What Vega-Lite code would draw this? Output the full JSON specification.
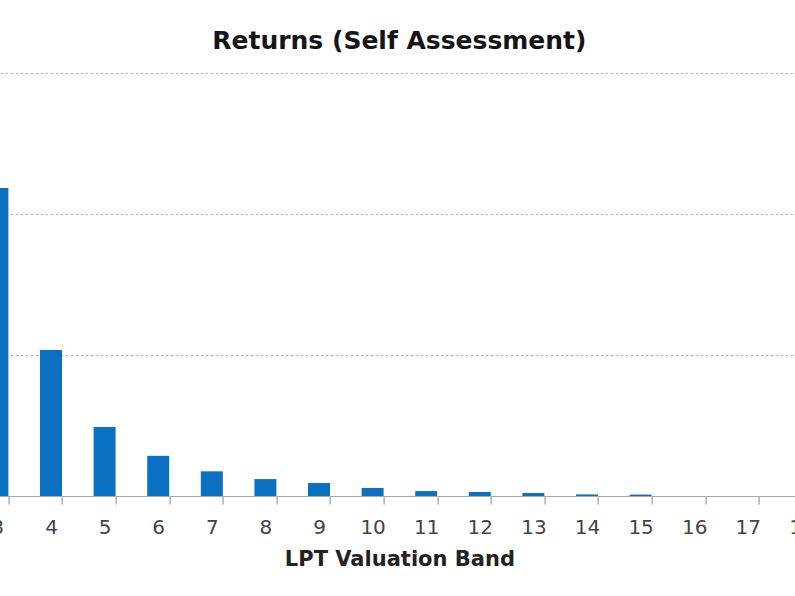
{
  "$schema": "https://vega.github.io/schema/vega-lite/v6.json",
  "width": 857.6,
  "height": 423,
  "autosize": {"type": "none"},
  "padding": {"left": -29.4, "top": 73, "right": -33.2, "bottom": 100},
  "background": "white",
  "title": {
    "text": "Returns (Self Assessment)",
    "font": "DejaVu Sans",
    "fontSize": 25,
    "fontWeight": "bold",
    "color": "#151515",
    "anchor": "middle",
    "offset": 19
  },
  "config": {"view": {"stroke": null}},
  "data": {
    "values": [
      {"band": "3", "returns": 43700},
      {"band": "4", "returns": 20700},
      {"band": "5", "returns": 9800},
      {"band": "6", "returns": 5700},
      {"band": "7", "returns": 3500},
      {"band": "8", "returns": 2400},
      {"band": "9", "returns": 1840},
      {"band": "10", "returns": 1140},
      {"band": "11", "returns": 700},
      {"band": "12", "returns": 560},
      {"band": "13", "returns": 420},
      {"band": "14", "returns": 220},
      {"band": "15", "returns": 200},
      {"band": "16", "returns": 0},
      {"band": "17", "returns": 0},
      {"band": "18", "returns": 0}
    ]
  },
  "mark": {"type": "bar", "color": "#0a70c2"},
  "encoding": {
    "x": {
      "field": "band",
      "type": "ordinal",
      "sort": null,
      "scale": {"paddingInner": 0.59, "paddingOuter": 0.295},
      "axis": {
        "title": "LPT Valuation Band",
        "titleFont": "DejaVu Sans",
        "titleFontSize": 21,
        "titleFontWeight": "bold",
        "titleColor": "#222222",
        "titlePadding": 11,
        "labelFont": "DejaVu Sans",
        "labelFontSize": 20,
        "labelColor": "#444444",
        "labelAngle": 0,
        "labelPadding": 13,
        "tickBand": "extent",
        "tickColor": "#888888",
        "tickSize": 8,
        "domainColor": "#aaaaaa",
        "labelBound": false,
        "labelFlush": false,
        "labelOverlap": false
      }
    },
    "y": {
      "field": "returns",
      "type": "quantitative",
      "scale": {"domain": [0, 60000], "nice": false},
      "axis": {
        "grid": true,
        "gridDash": [2, 3],
        "gridColor": "#a8a8a8",
        "labels": false,
        "ticks": false,
        "domain": false,
        "title": null,
        "values": [0, 20000, 40000, 60000]
      }
    }
  }
}
